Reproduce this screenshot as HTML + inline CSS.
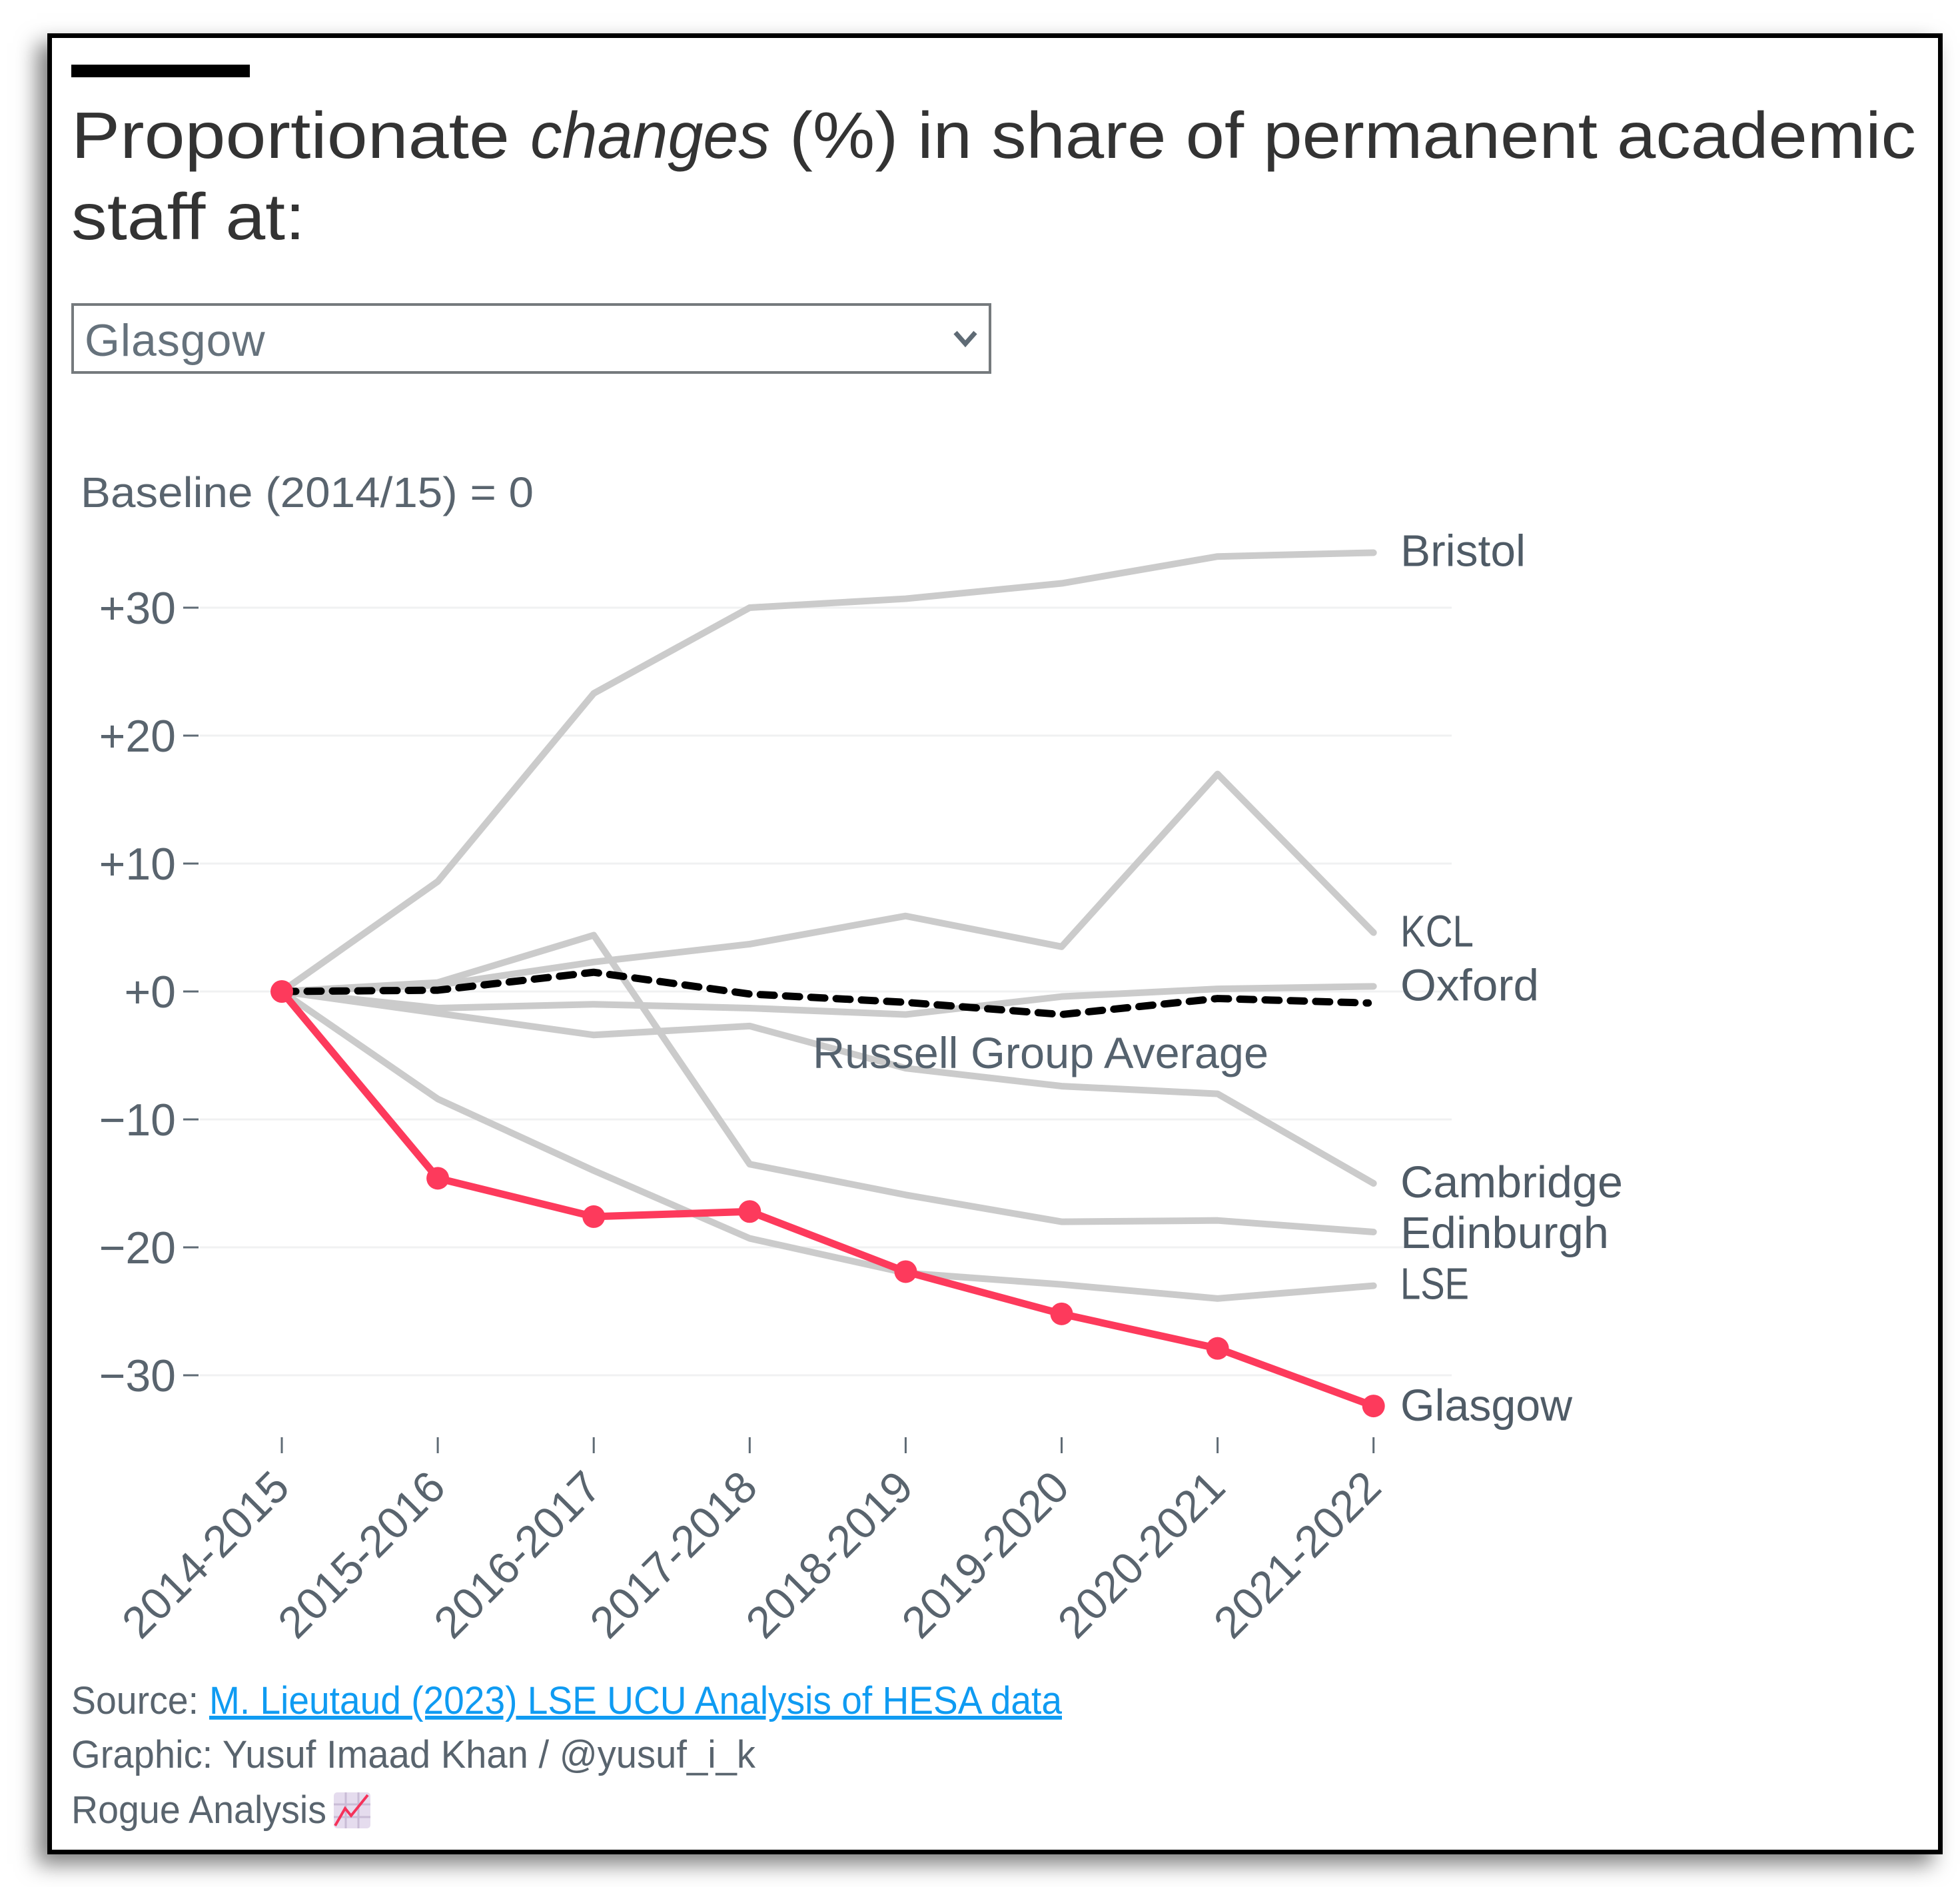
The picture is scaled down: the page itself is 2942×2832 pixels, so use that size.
<!DOCTYPE html>
<html lang="en">
<head>
<meta charset="utf-8">
<title>Proportionate changes in share of permanent academic staff</title>
<style>
html,body{margin:0;padding:0;background:#fff;width:2942px;height:2832px;overflow:hidden}
#frame{position:absolute;left:71px;top:50px;width:2845px;height:2733px;box-sizing:border-box;border:7px solid #000;background:#fff;box-shadow:-15px 15px 30px rgba(0,0,0,.5)}
#chart{position:absolute;left:0;top:0}
#picker{position:absolute;left:107px;top:455px;width:1381px;height:106px;box-sizing:border-box;border:4px solid #757a7d;background:transparent;color:#66727c;font:68px "Liberation Sans",sans-serif;letter-spacing:1px;padding:5px 0 0 16px;appearance:none;-webkit-appearance:none;border-radius:0;outline:none}
text{font-family:"Liberation Sans",sans-serif}
</style>
</head>
<body>
<div id="frame"></div>
<svg id="chart" xmlns="http://www.w3.org/2000/svg" width="2942" height="2832" viewBox="0 0 2942 2832">
  <rect x="107" y="97" width="268" height="19" fill="#000"/>
  <g fill="#333" font-size="98">
    <text x="107" y="237" textLength="658" lengthAdjust="spacingAndGlyphs">Proportionate</text>
    <text x="796" y="237" textLength="360" lengthAdjust="spacingAndGlyphs" font-style="italic">changes</text>
    <text x="1185" y="237" textLength="1691" lengthAdjust="spacingAndGlyphs">(%) in share of permanent academic</text>
    <text x="107" y="359" textLength="351" lengthAdjust="spacingAndGlyphs">staff at:</text>
  </g>
  <text x="121" y="761" font-size="64" fill="#59646e" textLength="680" lengthAdjust="spacingAndGlyphs">Baseline (2014/15) = 0</text>
  <g id="plot"></g>
  <text x="1220" y="1603" font-size="66" fill="#55626e" textLength="684" lengthAdjust="spacingAndGlyphs">Russell Group Average</text>
  <g font-size="58" fill="#59646e">
    <text x="107" y="2572" textLength="191" lengthAdjust="spacingAndGlyphs">Source:</text>
    <text x="314" y="2572" textLength="1280" lengthAdjust="spacingAndGlyphs" fill="#0f9bf2" text-decoration="underline">M. Lieutaud (2023) LSE UCU Analysis of HESA data</text>
    <text x="107" y="2653" textLength="1027" lengthAdjust="spacingAndGlyphs">Graphic: Yusuf Imaad Khan / @yusuf_i_k</text>
    <text x="107" y="2736" textLength="383" lengthAdjust="spacingAndGlyphs">Rogue Analysis</text>
  </g>
  <g>
    <rect x="501" y="2690" width="55" height="54" rx="5" fill="#e5dcee"/>
    <path d="M501 2708H556M501 2727H556M519 2690V2744M538 2690V2744" stroke="#c9bcd6" stroke-width="3" fill="none"/>
    <path d="M503 2740L518 2714L527 2725L552 2694" stroke="#f5325a" stroke-width="4" fill="none"/>
  </g>
  <path d="M1434 499L1449 516L1464 499" fill="none" stroke="#5f6b75" stroke-width="7"/>
</svg>
<select id="picker">
  <option>Glasgow</option>
  <option>Bristol</option>
  <option>Cambridge</option>
  <option>Edinburgh</option>
  <option>KCL</option>
  <option>LSE</option>
  <option>Oxford</option>
</select>
<script>
const categories = ['2014-2015','2015-2016','2016-2017','2017-2018','2018-2019','2019-2020','2020-2021','2021-2022'];
const yTickValues = [30,20,10,0,-10,-20,-30];
const yTickLabels = ['+30','+20','+10','+0','\u221210','\u221220','\u221230'];
const bristol = [0,8.6,23.3,30,30.7,31.9,34,34.3];
const kcl = [0,0.5,2.3,3.7,5.9,3.5,17,4.6];
const oxford = [0,-1.3,-1,-1.3,-1.8,-0.4,0.2,0.4];
const cambridge = [0,-1.7,-3.4,-2.7,-6,-7.4,-8,-15];
const edinburgh = [0,0.7,4.4,-13.5,-15.9,-18,-17.9,-18.8];
const lse = [0,-8.4,-14,-19.3,-22,-22.9,-24,-23];
const average = [0,0.1,1.5,-0.2,-0.85,-1.8,-0.55,-0.9];
const glasgow = [0,-14.6,-17.6,-17.2,-21.9,-25.2,-27.9,-32.4];

const greySeries = [['Bristol',bristol],['KCL',kcl],['Oxford',oxford],['Cambridge',cambridge],['Edinburgh',edinburgh],['LSE',lse]];

const NS = 'http://www.w3.org/2000/svg';
const plot = document.getElementById('plot');
const labelStyle = {Bristol:[188,-1],KCL:[110,0],Oxford:[208,0],Cambridge:[334,0],Edinburgh:[313,3],LSE:[103,-1],Glasgow:[258,1]};
function xScale(i){ return 423 + 234.1 * i; }
function yScale(v){ return 1488 - 19.2 * v; }
function make(tag, attrs, text){
  const el = document.createElementNS(NS, tag);
  for (const k in attrs) el.setAttribute(k, attrs[k]);
  if (text !== undefined) el.textContent = text;
  plot.appendChild(el);
  return el;
}
function pathOf(values){
  return values.map(function(v,i){ return (i ? 'L' : 'M') + xScale(i) + ' ' + yScale(v); }).join('');
}

yTickValues.forEach(function(v,i){
  const y = yScale(v);
  const grid = make('line',{x1:300,x2:2179,y1:y,y2:y,stroke:'#f0f1f2','stroke-width':3});
  
  
  const tick = make('line',{x1:275,x2:298,y1:y,y2:y,stroke:'#5f6b75','stroke-width':3});
  
  
  const label = make('text',{x:264,y:y+24,'text-anchor':'end','font-size':68,fill:'#59646e'},yTickLabels[i]);
  
  
});

categories.forEach(function(c,i){
  const x = xScale(i);
  const tick = make('line',{x1:x,x2:x,y1:2157,y2:2181,stroke:'#5f6b75','stroke-width':3});
  
  
  const label = make('text',{x:x+15,y:2236,'text-anchor':'end','font-size':67,fill:'#59646e',transform:'rotate(-45 '+(x+15)+' 2236)'},c);
  
  
});

greySeries.forEach(function(s){
  const line = make('path',{d:pathOf(s[1]),fill:'none',stroke:'#cbcbcb','stroke-width':10,'stroke-linejoin':'round','stroke-linecap':'round'});
  
  
});

const avgLine = make('path',{d:pathOf(average.slice(0,7)) + 'L' + (xScale(7)-8) + ' ' + yScale(average[7]),fill:'none',stroke:'#000','stroke-width':11,'stroke-dasharray':'21 17','stroke-linecap':'round','stroke-linejoin':'round'});



const redLine = make('path',{d:pathOf(glasgow),fill:'none',stroke:'#fd3a5c','stroke-width':11,'stroke-linejoin':'round'});



glasgow.forEach(function(v,i){
  const dot = make('circle',{cx:xScale(i),cy:yScale(v),r:17,fill:'#fd3a5c'});
  
  
});

greySeries.concat([['Glasgow',glasgow]]).forEach(function(s){
  const last = s[1][s[1].length-1];
  const label = make('text',{x:2102,y:yScale(last)+21+labelStyle[s[0]][1],'font-size':67,fill:'#4f5b66',textLength:labelStyle[s[0]][0],lengthAdjust:'spacingAndGlyphs'},s[0]);
  
  
});
</script>
</body>
</html>
